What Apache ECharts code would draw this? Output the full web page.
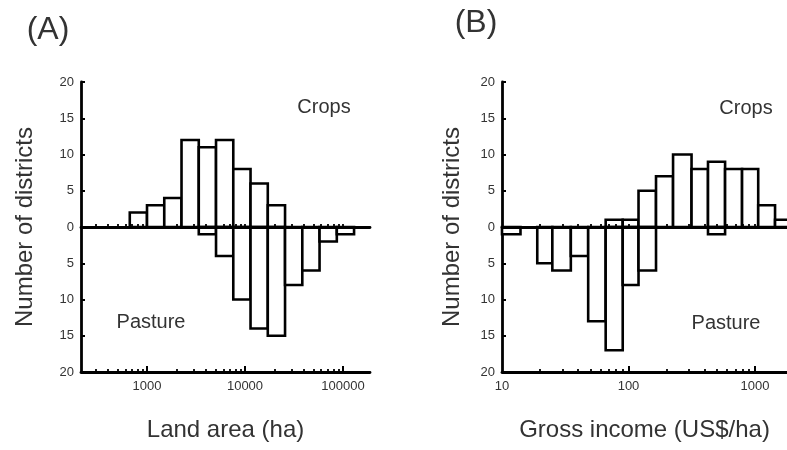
<!DOCTYPE html>
<html>
<head>
<meta charset="utf-8">
<script src="https://cdn.jsdelivr.net/npm/echarts@6/dist/echarts.min.js"></script>
<style>
  html, body { margin: 0; padding: 0; background: #fff; }
  #chart { width: 787px; height: 450px; }
</style>
</head>
<body>
<div id="chart"></div>
<script>
// (A) Land area classes (ha): bin edges, and district counts per bin
const areaEdges = [667, 1000, 1500, 2250, 3375, 5063, 7594, 11391, 17086, 25629, 38443, 57665, 86498, 129746];
const areaCrops = [2, 3, 4, 12, 11, 12, 8, 6, 3, 0, 0, 0, 0];
const areaPasture = [0, 0, 0, 0, -1, -4, -10, -14, -15, -8, -6, -2, -1];

// (B) Gross income classes (US$/ha): bin edges, and district counts per bin
const incomeEdges = [10, 14, 19, 25, 35, 48, 66, 90, 120, 165, 225, 315, 425, 580, 790, 1060, 1440, 1960];
const incomeCrops = [0, 0, 0, 0, 0, 0, 1, 1, 5, 7, 10, 8, 9, 8, 8, 3, 1];
const incomePasture = [-1, 0, -5, -6, -4, -13, -17, -8, -6, 0, 0, 0, -1, 0, 0, 0, 0];

// Axis ticks and labels
const areaLabels = [1000, 10000, 100000];
const areaMinorTicks = [300, 400, 500, 600, 700, 800, 900, 1000,
  2000, 3000, 4000, 5000, 6000, 7000, 8000, 9000, 10000,
  20000, 30000, 40000, 50000, 60000, 70000, 80000, 90000, 100000];
const incomeLabels = [10, 100, 1000];
const incomeMinorTicks = [20, 30, 40, 50, 60, 70, 80, 90, 100,
  200, 300, 400, 500, 600, 700, 800, 900, 1000];
const countTicks = [-20, -15, -10, -5, 0, 5, 10, 15, 20];

const FONT = 'Liberation Sans, Arial, sans-serif';

function binRows(edges, counts) {
  return counts.map((c, i) => [edges[i], edges[i + 1], c]);
}

// One outlined box per histogram class, from the zero line to the count
function renderBin(params, api) {
  const v = api.value(2);
  if (!v) return null;
  const p0 = api.coord([api.value(0), 0]);
  const p1 = api.coord([api.value(1), v]);
  return {
    type: 'rect',
    shape: {
      x: p0[0],
      y: Math.min(p0[1], p1[1]),
      width: p1[0] - p0[0],
      height: Math.abs(p1[1] - p0[1])
    },
    style: { fill: '#fff', stroke: '#000', lineWidth: 2.6 }
  };
}

function histSeries(edges, counts, gridIdx) {
  return {
    type: 'custom',
    xAxisIndex: gridIdx * 3,
    yAxisIndex: gridIdx,
    renderItem: renderBin,
    encode: { x: [0, 1], y: 2 },
    data: binRows(edges, counts),
    silent: true
  };
}

// Bottom axis with labels, its longer decade ticks, and the zero line with its own ticks
function xAxes(gridIdx, min, max, labels, minor, title, gap) {
  const base = { type: 'log', logBase: 10, gridIndex: gridIdx, min: min, max: max, position: 'bottom',
    splitLine: { show: false }, minorSplitLine: { show: false } };
  return [
    Object.assign({}, base, {
      axisLine: { onZero: false, lineStyle: { color: '#000', width: 2.8 } },
      axisTick: { inside: true, length: 3, customValues: minor, lineStyle: { color: '#000', width: 1.8 } },
      axisLabel: { customValues: labels, color: '#333', fontSize: 13, fontFamily: FONT, margin: 8,
        formatter: v => String(Math.round(v)) },
      name: title, nameLocation: 'middle', nameGap: gap,
      nameTextStyle: { fontSize: 24, color: '#333', fontFamily: FONT }
    }),
    Object.assign({}, base, {
      axisLine: { show: false, onZero: false },
      axisTick: { inside: true, length: 6, customValues: labels.filter(v => v > min), lineStyle: { color: '#000', width: 2 } },
      axisLabel: { show: false }
    }),
    Object.assign({}, base, {
      z: 3,
      axisLine: { onZero: true, lineStyle: { color: '#000', width: 2.8 } },
      axisTick: { inside: true, length: 3, customValues: minor, lineStyle: { color: '#000', width: 1.8 } },
      axisLabel: { show: false }
    })
  ];
}

function yAxis(gridIdx, gap) {
  return {
    type: 'value', gridIndex: gridIdx, min: -20, max: 20, interval: 5,
    axisLine: { onZero: false, lineStyle: { color: '#000', width: 2.8 } },
    axisTick: { inside: true, length: 4, customValues: countTicks, lineStyle: { color: '#000', width: 2 } },
    axisLabel: { color: '#333', fontSize: 13, fontFamily: FONT, margin: 7, formatter: v => String(Math.abs(v)) },
    splitLine: { show: false },
    name: 'Number of districts', nameLocation: 'middle', nameGap: gap,
    nameTextStyle: { fontSize: 24, color: '#333', fontFamily: FONT }
  };
}

function label(text, x, y, size) {
  return { type: 'text', x: x, y: y, silent: true,
    style: { text: text, fill: '#333', font: size + 'px ' + FONT, align: 'center', verticalAlign: 'middle' } };
}

const chart = echarts.init(document.getElementById('chart'), null, { renderer: 'canvas' });
chart.setOption({
  animation: false,
  backgroundColor: '#fff',
  grid: [
    { left: 81, top: 82, width: 289, height: 290 },
    { left: 502, top: 82, width: 285, height: 290 }
  ],
  xAxis: [].concat(
    xAxes(0, 212, 188700, areaLabels, areaMinorTicks, 'Land area (ha)', 46),
    xAxes(1, 10, 1790, incomeLabels, incomeMinorTicks, 'Gross income (US$/ha)', 46)
  ),
  yAxis: [yAxis(0, 44), yAxis(1, 38)],
  series: [
    histSeries(areaEdges, areaCrops, 0),
    histSeries(areaEdges, areaPasture, 0),
    histSeries(incomeEdges, incomeCrops, 1),
    histSeries(incomeEdges, incomePasture, 1)
  ],
  graphic: [
    label('(A)', 48, 30, 32),
    label('(B)', 476, 23, 32),
    label('Crops', 324, 107, 20),
    label('Pasture', 151, 322, 20),
    label('Crops', 746, 108, 20),
    label('Pasture', 726, 323, 20)
  ]
});
</script>
</body>
</html>
